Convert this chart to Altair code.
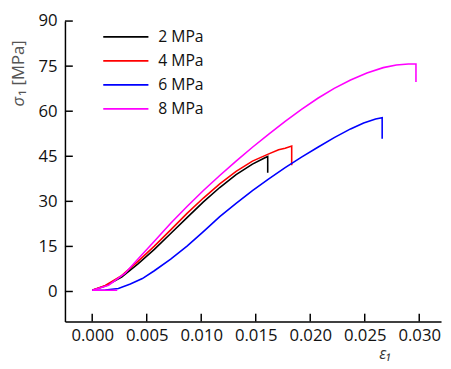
import altair as alt
import pandas as pd

series_names = ["2 MPa", "4 MPa", "6 MPa", "8 MPa"]
series_colors = ["#000000", "#ff0000", "#0000ff", "#ff00ff"]

eps_2 = [0.0, 0.0012, 0.0027, 0.0042, 0.0057, 0.0072, 0.0087, 0.0102, 0.0117, 0.0132, 0.0147, 0.0158, 0.0161, 0.0161]
sig_2 = [0.4, 1.8, 4.8, 9.2, 14.0, 19.3, 24.6, 29.8, 34.6, 38.9, 42.4, 44.4, 44.9, 39.5]

eps_4 = [0.0, 0.0012, 0.0027, 0.0042, 0.0057, 0.0072, 0.0087, 0.0102, 0.0117, 0.0132, 0.0147, 0.0162, 0.0171, 0.0177, 0.0183, 0.0183]
sig_4 = [0.4, 2.0, 5.3, 10.0, 15.1, 20.5, 26.0, 31.1, 35.8, 40.0, 43.4, 45.8, 47.2, 47.7, 48.4, 42.0]

eps_6 = [0.0, 0.0012, 0.0024, 0.0035, 0.0046, 0.0057, 0.0072, 0.0087, 0.0102, 0.0117, 0.0132, 0.0147, 0.0162, 0.0177,
         0.0192, 0.0207, 0.0222, 0.0237, 0.0249, 0.0260, 0.0266, 0.0266]
sig_6 = [0.4, 0.5, 1.0, 2.5, 4.3, 6.9, 10.8, 15.1, 19.9, 24.9, 29.3, 33.6, 37.5, 41.2,
         44.7, 48.0, 51.2, 54.1, 56.1, 57.4, 57.8, 50.8]

eps_8 = [0.0023, 0.0, 0.0015, 0.003, 0.0042, 0.0057, 0.0072, 0.0087, 0.0102, 0.0117, 0.0132, 0.0147, 0.0162, 0.0177,
         0.0192, 0.0207, 0.0222, 0.0237, 0.0252, 0.0267, 0.0279, 0.0290, 0.0297, 0.0297]
sig_8 = [0.4, 0.4, 2.1, 6.0, 10.8, 16.7, 22.7, 28.3, 33.6, 38.6, 43.4, 48.0, 52.4, 56.6,
         60.6, 64.3, 67.6, 70.4, 72.7, 74.5, 75.4, 75.7, 75.7, 69.7]

x_ticks = [0.0, 0.005, 0.010, 0.015, 0.020, 0.025, 0.030]
y_ticks = [0, 15, 30, 45, 60, 75, 90]

rows = []
for name, ex, sy in zip(series_names, [eps_2, eps_4, eps_6, eps_8], [sig_2, sig_4, sig_6, sig_8]):
    for i, (e, s) in enumerate(zip(ex, sy)):
        rows.append({"series": name, "eps": e, "sigma": s, "i": i})
df = pd.DataFrame(rows)

W, H = 383, 306
xs = alt.Scale(domain=[-0.0025, 0.032], nice=False, zero=False)
ys = alt.Scale(domain=[-10, 90], nice=False, zero=False)

lines = alt.Chart(df).mark_line(strokeWidth=1.6).encode(
    x=alt.X("eps:Q", scale=xs,
            axis=alt.Axis(values=x_ticks, format=".3f", title="ε₁", titleFontStyle="italic",
                          titleFontWeight="normal", titleFontSize=16, titleColor="#333333",
                          titleX=326, titleY=41, titleAlign="center", titleBaseline="bottom")),
    y=alt.Y("sigma:Q", scale=ys, axis=alt.Axis(values=y_ticks, title=None)),
    color=alt.Color("series:N", scale=alt.Scale(domain=series_names, range=series_colors),
                    legend=alt.Legend(title=None, orient="none", legendX=38, legendY=8,
                                      symbolType="stroke", symbolSize=2116, symbolStrokeWidth=1.8,
                                      clipHeight=16, rowPadding=8.5, labelFontSize=16,
                                      labelOffset=9, labelColor="#111111", padding=0)),
    order=alt.Order("i:Q"),
    detail="series:N",
)

xt = alt.Chart(pd.DataFrame({"v": x_ticks})).mark_rule(color="black", strokeWidth=1.5).encode(
    x="v:Q", y=alt.value(H), y2=alt.value(H - 8))
yt = alt.Chart(pd.DataFrame({"v": y_ticks})).mark_rule(color="black", strokeWidth=1.5).encode(
    y="v:Q", x=alt.value(0), x2=alt.value(8))

t1 = alt.Chart(pd.DataFrame({"t": ["σ"]})).mark_text(
    angle=270, align="left", baseline="middle", fontSize=17, fontStyle="italic", color="#555555"
).encode(text="t:N", x=alt.value(-47), y=alt.value(87))
t2 = alt.Chart(pd.DataFrame({"t": ["₁ [MPa]"]})).mark_text(
    angle=270, align="left", baseline="middle", fontSize=17, color="#555555"
).encode(text="t:N", x=alt.value(-47), y=alt.value(76))

chart = alt.layer(lines, xt, yt, t1, t2).properties(
    width=W, height=H,
    autosize=alt.AutoSizeParams(type="none"),
    padding={"left": 58, "top": 10, "right": 2, "bottom": 43},
).configure(font="Open Sans").configure_view(stroke=None).configure_axis(
    grid=False, ticks=False, tickSize=0, domainColor="black", domainWidth=1.5,
    labelFontSize=17, labelColor="#111111",
).configure_axisX(labelPadding=6).configure_axisY(labelPadding=8)

chart.save("out.html", embed_options={"renderer": "svg", "actions": False})
